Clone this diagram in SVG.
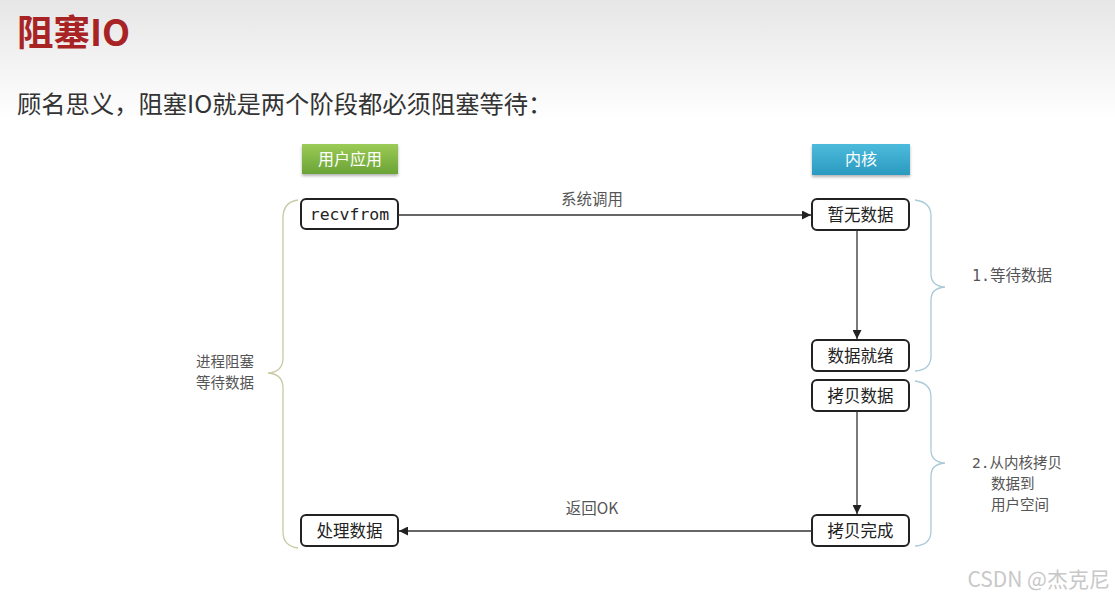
<svg xmlns="http://www.w3.org/2000/svg" width="1115" height="605" viewBox="0 0 1115 605">
<defs>
<linearGradient id="bg" x1="0" y1="0" x2="0" y2="1">
<stop offset="0" stop-color="#e6e6e6"/>
<stop offset="0.2" stop-color="#ffffff"/>
<stop offset="1" stop-color="#ffffff"/>
</linearGradient>
<linearGradient id="gGreen" x1="0" y1="0" x2="0" y2="1">
<stop offset="0" stop-color="#9ccb56"/>
<stop offset="1" stop-color="#6aa336"/>
</linearGradient>
<linearGradient id="gBlue" x1="0" y1="0" x2="0" y2="1">
<stop offset="0" stop-color="#4cbbdc"/>
<stop offset="1" stop-color="#2a9ac0"/>
</linearGradient>
<filter id="sh" x="-20%" y="-30%" width="140%" height="170%">
<feDropShadow dx="0" dy="2" stdDeviation="1.5" flood-color="#000" flood-opacity="0.3"/>
</filter>
<marker id="arr" viewBox="0 0 10 10" refX="10" refY="5" markerWidth="9" markerHeight="9" markerUnits="userSpaceOnUse" orient="auto">
<path d="M0,0 L10,5 L0,10 z" fill="#222"/>
</marker>
<style>
.cjk{font-family:"Noto Sans CJK SC","Noto Sans",sans-serif}
.node rect{fill:#fff;stroke:#222;stroke-width:2}
.node text{font-family:"Noto Sans CJK SC","Noto Sans",sans-serif;font-size:16.5px;fill:#222;text-anchor:middle}
.mono{font-family:"DejaVu Sans Mono","Liberation Mono",monospace !important}
.lbl{font-family:"Noto Sans CJK SC","Noto Sans",sans-serif;font-size:15.5px;fill:#555}
.ml{font-size:14.5px}
.conn line{stroke:#333;stroke-width:1.3;marker-end:url(#arr)}
.brace{fill:none;stroke-width:1.3}
.btn text{font-family:"Noto Sans CJK SC","Noto Sans",sans-serif;font-size:16px;fill:#fff;text-anchor:middle}
</style>
</defs>
<rect x="0" y="0" width="1115" height="605" fill="url(#bg)"/>
<text x="17" y="46" class="cjk" font-size="36.5" font-weight="bold" fill="#a82424">阻塞IO</text>
<text x="17" y="113" class="cjk" font-size="24.3" fill="#333">顾名思义，阻塞IO就是两个阶段都必须阻塞等待：</text>

<g id="btn-user" class="btn">
<rect x="302" y="144" width="96" height="30" fill="url(#gGreen)" filter="url(#sh)"/>
<text x="350" y="165">用户应用</text>
</g>
<g id="btn-kernel" class="btn">
<rect x="812" y="144" width="98" height="31" fill="url(#gBlue)" filter="url(#sh)"/>
<text x="861" y="165">内核</text>
</g>

<g id="n-recvfrom" class="node">
<rect x="301" y="199" width="97" height="30" rx="5"/>
<text x="349.5" y="220" class="mono" font-size="16">recvfrom</text>
</g>
<g id="n-nodata" class="node">
<rect x="812" y="199" width="97" height="31" rx="5"/>
<text x="860.5" y="221">暂无数据</text>
</g>
<g id="n-ready" class="node">
<rect x="812" y="340" width="97" height="31" rx="5"/>
<text x="860.5" y="362">数据就绪</text>
</g>
<g id="n-copy" class="node">
<rect x="812" y="380" width="97" height="31" rx="5"/>
<text x="860.5" y="402">拷贝数据</text>
</g>
<g id="n-copydone" class="node">
<rect x="812" y="515" width="97" height="31" rx="5"/>
<text x="860.5" y="537">拷贝完成</text>
</g>
<g id="n-process" class="node">
<rect x="301" y="515" width="97" height="31" rx="5"/>
<text x="349.5" y="537">处理数据</text>
</g>

<g id="connectors" class="conn">
<line x1="398" y1="215" x2="811" y2="215"/>
<line x1="857" y1="230" x2="857" y2="339"/>
<line x1="857" y1="411" x2="857" y2="514"/>
<line x1="812" y1="531" x2="399" y2="531"/>
<text x="592" y="205" class="lbl" text-anchor="middle">系统调用</text>
<text x="592" y="514" class="lbl" text-anchor="middle">返回OK</text>
</g>

<g id="brace-left">
<path class="brace" stroke="#c9c9a6" d="M298,200 Q283,202 283,218 L283,358 Q283,372 268,373 Q283,374 283,388 L283,532 Q283,546 298,548"/>
<text class="lbl ml" x="225" y="367" text-anchor="middle">进程阻塞</text>
<text class="lbl ml" x="225" y="388" text-anchor="middle">等待数据</text>
</g>
<g id="brace-wait">
<path class="brace" stroke="#a9cad8" d="M915,200 Q931,202 931,216 L931,274 Q931,286 945,287 Q931,288 931,300 L931,356 Q931,370 915,371"/>
<text class="lbl" x="972" y="281"><tspan class="mono" font-size="15">1.</tspan>等待数据</text>
</g>
<g id="brace-copy">
<path class="brace" stroke="#a9cad8" d="M915,381 Q931,383 931,397 L931,450 Q931,462 945,463 Q931,464 931,476 L931,531 Q931,545 915,546"/>
<text class="lbl ml" x="972" y="468"><tspan class="mono" font-size="14.5">2.</tspan>从内核拷贝</text>
<text class="lbl ml" x="991" y="489">数据到</text>
<text class="lbl ml" x="991" y="510">用户空间</text>
</g>
<text x="1110" y="587" class="cjk" font-size="21" fill="#c8c8c8" text-anchor="end">CSDN @杰克尼</text>
</svg>
